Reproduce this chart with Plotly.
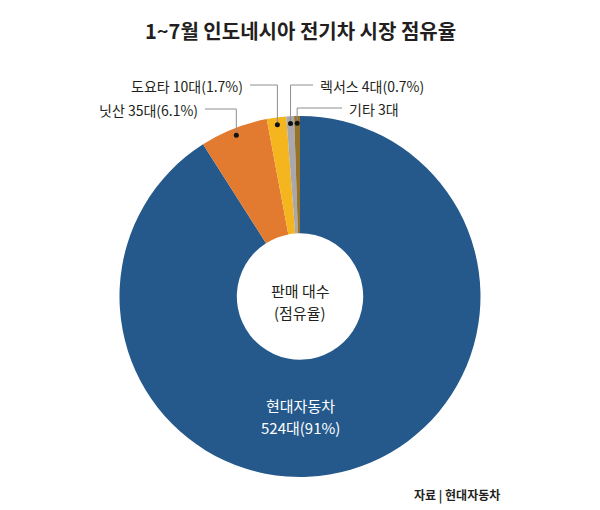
import numpy as np
import plotly.graph_objects as go

# 1~7월 인도네시아 전기차 판매 (대)
brands = ['현대자동차', '닛산', '도요타', '렉서스', '기타']
units = [524, 35, 10, 4, 3]
shares = ['91%', '6.1%', '1.7%', '0.7%', '']
colors = ['#25598B', '#E27A30', '#F5B51F', '#A9A9AD', '#977329']

W, H = 600, 510
OFF = 8  # page body margin, everything is drawn 8px up/left to compensate

# pie geometry in page pixels
cx, cy, r = 300 - OFF, 296.5 - OFF, 180.5

fig = go.Figure()

fig.add_trace(go.Pie(labels=brands, values=units, hole=0.35, sort=False,
                     direction='clockwise', rotation=0,
                     marker=dict(colors=colors, line=dict(width=0)),
                     textinfo='none', hoverinfo='label+value', showlegend=False,
                     domain=dict(x=[(cx - r) / W, (cx + r) / W],
                                 y=[(H - cy - r) / H, (H - cy + r) / H])))

# slice mid angles (clockwise from top)
vals = np.array(units, dtype=float)
ends = np.cumsum(vals) / vals.sum() * 360
mids = np.radians(ends - vals / vals.sum() * 180)
dot_x = cx + r * 0.96 * np.sin(mids)
dot_y = cy - r * 0.96 * np.cos(mids)

# leader lines: (brand index, label y, horizontal end x, text side)
leaders = [(1, 109, 205, 'right'), (2, 85, 250, 'right'),
           (3, 85, 313, 'left'), (4, 108, 342, 'left')]
label_text = {1: '닛산 35대(6.1%)', 2: '도요타 10대(1.7%)',
              3: '렉서스 4대(0.7%)', 4: '기타 3대'}

for i, ly, ex, side in leaders:
    ly, ex = ly - OFF, ex - OFF
    fig.add_shape(type='path', xref='x', yref='y', layer='above',
                  path=f'M{dot_x[i]},{dot_y[i]} L{dot_x[i]},{ly} L{ex},{ly}',
                  line=dict(color='#8e8e8e', width=1))
    fig.add_shape(type='circle', xref='x', yref='y', layer='above',
                  x0=dot_x[i] - 2.5, x1=dot_x[i] + 2.5,
                  y0=dot_y[i] - 2.5, y1=dot_y[i] + 2.5,
                  fillcolor='#111111', line=dict(width=0))
    fig.add_annotation(x=ex + (-5 if side == 'right' else 5), y=ly + 1,
                       text=label_text[i], showarrow=False,
                       xanchor=side, yanchor='middle',
                       font=dict(size=14, color='#231f20'))

# center and inside labels, one annotation per line
for txt, y, col in [('판매 대수', 290, '#231f20'), ('(점유율)', 312, '#231f20'),
                    ('현대자동차', 405, 'white'), ('524대(91%)', 427, 'white')]:
    fig.add_annotation(x=cx, y=y - OFF, text=txt, showarrow=False,
                       yanchor='middle', font=dict(size=15, color=col))

fig.add_annotation(x=300 - OFF, y=30 - OFF, text='<b>1~7월 인도네시아 전기차 시장 점유율</b>',
                   showarrow=False, font=dict(size=20, color='#231f20'))
fig.add_annotation(x=412 - OFF, y=495 - OFF, text='<b>자료 | 현대자동차</b>', showarrow=False,
                   xanchor='left', font=dict(size=12, color='#231f20'))

fig.add_trace(go.Scatter(x=[0, W], y=[0, H], mode='markers', marker=dict(opacity=0),
                         hoverinfo='skip', showlegend=False))
fig.update_xaxes(range=[0, W], visible=False, fixedrange=True)
fig.update_yaxes(range=[H, 0], visible=False, fixedrange=True)
fig.update_layout(width=W, height=H, margin=dict(l=0, r=0, t=0, b=0),
                  paper_bgcolor='white', plot_bgcolor='rgba(0,0,0,0)',
                  font=dict(family='Noto Sans CJK KR'))

fig.write_html("out.html")
